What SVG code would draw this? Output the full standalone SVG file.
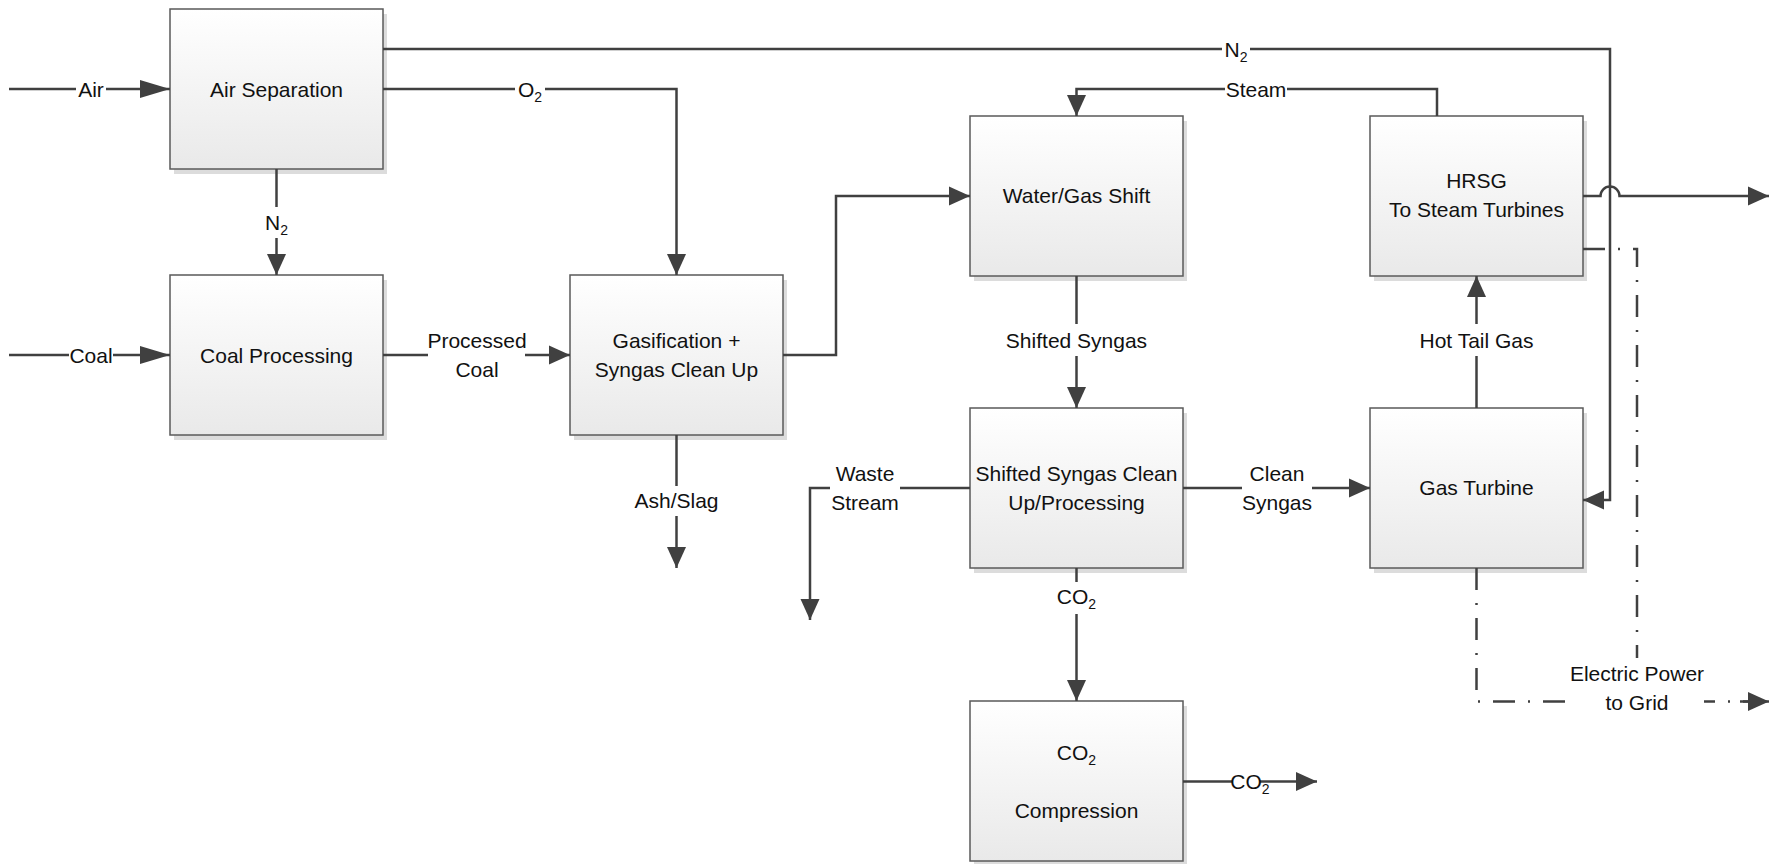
<svg xmlns="http://www.w3.org/2000/svg" width="1777" height="864" viewBox="0 0 1777 864">
<style>
.shadow{fill:#dcdcdc}
.box{fill:url(#g);stroke:#5a5a5a;stroke-width:1.5}
.t{font-family:"Liberation Sans",Arial,sans-serif;font-size:21px;fill:#111;text-anchor:middle}
.ln{fill:none;stroke:#404040;stroke-width:2.5}
.dd{fill:none;stroke:#404040;stroke-width:2.5;stroke-dasharray:22 13 2 13}
.bg{fill:#fff}
.sub{font-size:14px}
</style>
<defs>
<linearGradient id="g" x1="0" y1="0" x2="0" y2="1">
<stop offset="0" stop-color="#ffffff"/>
<stop offset="1" stop-color="#e9e9e9"/>
</linearGradient>
<marker id="a" viewBox="0 0 21 20" markerWidth="21" markerHeight="20" refX="21" refY="10" orient="auto" markerUnits="userSpaceOnUse">
<path d="M0,0.5 L21,10 L0,19.5 Z" fill="#404040"/>
</marker>
<marker id="ab" viewBox="0 0 30 18" markerWidth="30" markerHeight="18" refX="30" refY="9" orient="auto" markerUnits="userSpaceOnUse">
<path d="M0,0 L30,9 L0,18 Z" fill="#404040"/>
</marker>
</defs>
<rect width="1777" height="864" fill="#fff"/>

<g id="air-separation">
<rect class="shadow" x="174" y="14" width="213" height="160"/>
<rect class="box" x="170" y="9" width="213" height="160"/>
<text class="t" x="276.5" y="96.5">Air Separation</text>
</g>

<g id="coal-processing">
<rect class="shadow" x="174" y="280" width="213" height="160"/>
<rect class="box" x="170" y="275" width="213" height="160"/>
<text class="t" x="276.5" y="362.5">Coal Processing</text>
</g>

<g id="gasification">
<rect class="shadow" x="574" y="280" width="213" height="160"/>
<rect class="box" x="570" y="275" width="213" height="160"/>
<text class="t" x="676.5" y="347.5">Gasification +</text>
<text class="t" x="676.5" y="376.5">Syngas Clean Up</text>
</g>

<g id="water-gas-shift">
<rect class="shadow" x="974" y="121" width="213" height="160"/>
<rect class="box" x="970" y="116" width="213" height="160"/>
<text class="t" x="1076.5" y="202.5">Water/Gas Shift</text>
</g>

<g id="hrsg">
<rect class="shadow" x="1374" y="121" width="213" height="160"/>
<rect class="box" x="1370" y="116" width="213" height="160"/>
<text class="t" x="1476.5" y="187.5">HRSG</text>
<text class="t" x="1476.5" y="216.5">To Steam Turbines</text>
</g>

<g id="shifted-syngas-cleanup">
<rect class="shadow" x="974" y="413" width="213" height="160"/>
<rect class="box" x="970" y="408" width="213" height="160"/>
<text class="t" x="1076.5" y="480.5">Shifted Syngas Clean</text>
<text class="t" x="1076.5" y="509.5">Up/Processing</text>
</g>

<g id="gas-turbine">
<rect class="shadow" x="1374" y="413" width="213" height="160"/>
<rect class="box" x="1370" y="408" width="213" height="160"/>
<text class="t" x="1476.5" y="495">Gas Turbine</text>
</g>

<g id="co2-compression">
<rect class="shadow" x="974" y="706" width="213" height="160"/>
<rect class="box" x="970" y="701" width="213" height="160"/>
<text class="t" x="1076.5" y="760">CO<tspan class="sub" dy="5">2</tspan></text>
<text class="t" x="1076.5" y="817.5">Compression</text>
</g>

<g id="connectors">
<path class="ln" d="M9,89 H170" marker-end="url(#ab)"/>
<rect class="bg" x="76" y="76" width="30" height="26"/>
<text class="t" x="91" y="96.5">Air</text>

<path class="ln" d="M9,355 H170" marker-end="url(#ab)"/>
<rect class="bg" x="69" y="342" width="44" height="26"/>
<text class="t" x="91" y="362.5">Coal</text>

<path class="ln" d="M276.5,169 V275" marker-end="url(#a)"/>
<rect class="bg" x="262" y="207" width="30" height="31"/>
<text class="t" x="276.5" y="230">N<tspan class="sub" dy="5">2</tspan></text>

<path class="ln" d="M383,89 H676.5 V275" marker-end="url(#a)"/>
<rect class="bg" x="515" y="76" width="30" height="26"/>
<text class="t" x="530" y="96.5">O<tspan class="sub" dy="5">2</tspan></text>

<path class="ln" d="M383,49 H1610 V500 H1583" marker-end="url(#a)"/>
<rect class="bg" x="1222" y="36" width="28" height="26"/>
<text class="t" x="1236" y="56.5">N<tspan class="sub" dy="5">2</tspan></text>

<path class="ln" d="M383,355 H570" marker-end="url(#a)"/>
<rect class="bg" x="428" y="324" width="97" height="60"/>
<text class="t" x="477" y="347.5">Processed</text>
<text class="t" x="477" y="376.5">Coal</text>

<path class="ln" d="M783,355 H836 V196 H970" marker-end="url(#a)"/>

<path class="ln" d="M676.5,435 V568" marker-end="url(#a)"/>
<rect class="bg" x="630" y="486" width="93" height="30"/>
<text class="t" x="676.5" y="507.5">Ash/Slag</text>

<path class="ln" d="M1437,116 V89 H1076.5 V116" marker-end="url(#a)"/>
<rect class="bg" x="1225" y="76" width="62" height="26"/>
<text class="t" x="1256" y="96.5">Steam</text>

<path class="ln" d="M1076.5,276 V408" marker-end="url(#a)"/>
<rect class="bg" x="1003" y="324" width="147" height="32"/>
<text class="t" x="1076.5" y="347.5">Shifted Syngas</text>

<path class="ln" d="M970,488 H810 V620" marker-end="url(#a)"/>
<rect class="bg" x="830" y="458" width="70" height="60"/>
<text class="t" x="865" y="480.5">Waste</text>
<text class="t" x="865" y="509.5">Stream</text>

<path class="ln" d="M1183,488 H1370" marker-end="url(#a)"/>
<rect class="bg" x="1242" y="458" width="70" height="60"/>
<text class="t" x="1277" y="480.5">Clean</text>
<text class="t" x="1277" y="509.5">Syngas</text>

<path class="ln" d="M1476.5,408 V276" marker-end="url(#a)"/>
<rect class="bg" x="1413" y="324" width="127" height="32"/>
<text class="t" x="1476.5" y="347.5">Hot Tail Gas</text>

<path class="ln" d="M1076.5,568 V701" marker-end="url(#a)"/>
<rect class="bg" x="1058" y="582" width="37" height="32"/>
<text class="t" x="1076.5" y="604">CO<tspan class="sub" dy="5">2</tspan></text>

<path class="ln" d="M1183,781.5 H1317" marker-end="url(#a)"/>
<rect class="bg" x="1233" y="770" width="27" height="22"/>
<text class="t" x="1250" y="789">CO<tspan class="sub" dy="5">2</tspan></text>

<path class="ln" d="M1583,196 H1600.5 A9.5,9.5 0 0 1 1619.5,196 H1769" marker-end="url(#a)"/>

<path class="dd" d="M1583,249 H1637 V658"/>
<path class="dd" d="M1476.5,568 V701.5 H1752"/>
<path class="ln" d="M1740,701.5 H1769" marker-end="url(#a)"/>
<rect class="bg" x="1570" y="659" width="134" height="57"/>
<text class="t" x="1637" y="680.5">Electric Power</text>
<text class="t" x="1637" y="709.5">to Grid</text>
</g>
</svg>
